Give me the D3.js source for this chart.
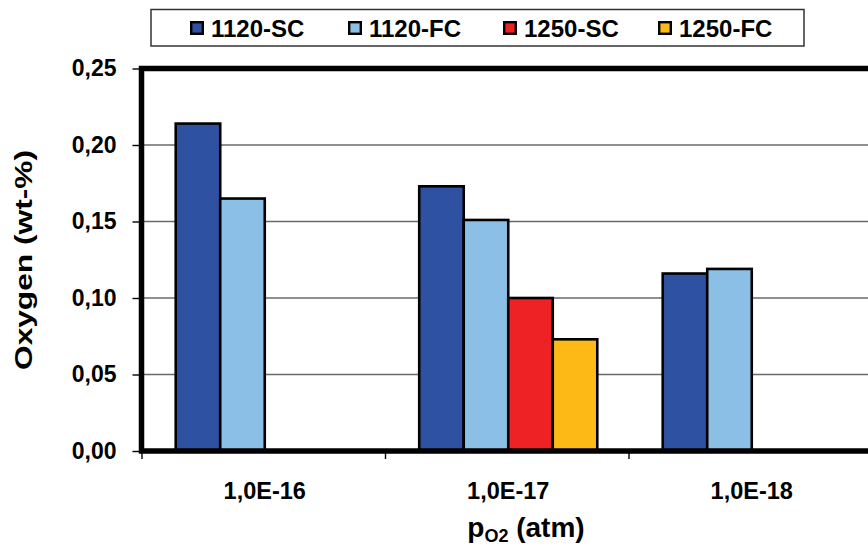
<!DOCTYPE html>
<html><head><meta charset="utf-8">
<script src="https://cdn.jsdelivr.net/npm/d3@7/dist/d3.min.js"></script>
<style>body{margin:0;background:#fff}svg{display:block}text{font-family:Arial,"Liberation Sans",sans-serif;font-weight:bold;fill:#000}</style>
</head><body><svg id="c" width="868" height="549"></svg>
<script>
const categories = ["1,0E-16", "1,0E-17", "1,0E-18"];
const seriesNames = ["1120-SC", "1120-FC", "1250-SC", "1250-FC"];
const sc1120 = [0.214, 0.173, 0.116];
const fc1120 = [0.165, 0.151, 0.119];
const sc1250 = [null, 0.100, null];
const fc1250 = [null, 0.073, null];
const seriesColors = ["#2E51A2", "#8CBFE6", "#EE2224", "#FDB916"];
const yTicks = [0, 0.05, 0.10, 0.15, 0.20, 0.25];

const seriesValues = [sc1120, fc1120, sc1250, fc1250];
const svg = d3.select("#c");
const pLeft = 141.5, pRight = 873.5, pTop = 68.5, pBottom = 451;

const x = d3.scaleBand().domain(categories).range([143, 873.5]).padding(0);
const xi = d3.scaleBand().domain(seriesNames).range([0, x.bandwidth()]).paddingInner(0).paddingOuter(0.735);
const y = d3.scaleLinear().domain([0, 0.25]).range([pBottom, pTop]);
const loc = d3.formatLocale({decimal: ",", thousands: ".", grouping: [3], currency: ["", ""]});
const fmt = loc.format(".2f");

// gridlines
svg.append("g").selectAll("line").data(yTicks.filter(d => d > 0 && d < 0.25)).join("line")
  .attr("x1", pLeft).attr("x2", pRight).attr("y1", d => y(d)).attr("y2", d => y(d))
  .attr("stroke", "#6a6a6a").attr("stroke-width", 1.4);

// bars
const rows = [];
categories.forEach((c, ci) => seriesNames.forEach((s, si) => {
  const v = seriesValues[si][ci];
  if (v != null) rows.push({c, s, v, color: seriesColors[si]});
}));
svg.append("g").selectAll("rect").data(rows).join("rect")
  .attr("x", d => x(d.c) + xi(d.s)).attr("width", xi.bandwidth())
  .attr("y", d => y(d.v)).attr("height", d => y(0) - y(d.v))
  .attr("fill", d => d.color).attr("stroke", "#000").attr("stroke-width", 2.6);

// frame
svg.append("rect").attr("x", pLeft).attr("y", pTop).attr("width", pRight - pLeft).attr("height", pBottom - pTop)
  .attr("fill", "none").attr("stroke", "#000").attr("stroke-width", 5.5);

// y axis
const ya = d3.axisLeft(y).tickValues(yTicks).tickFormat(fmt).tickSize(8).tickPadding(16);
const yg = svg.append("g").attr("transform", `translate(${pLeft - 1},0)`).call(ya);
yg.select(".domain").remove();
yg.selectAll(".tick line").attr("stroke", "#000").attr("stroke-width", 1.4);
yg.selectAll(".tick text").style("font-size", "23px").style("font-family", "Arial, 'Liberation Sans', sans-serif").style("font-weight", "bold").attr("fill", "#000");

// x axis: labels centered in groups, ticks at boundaries
const xa = d3.axisBottom(x).tickSize(0).tickPadding(31);
const xg = svg.append("g").attr("transform", `translate(0,${pBottom})`).call(xa);
xg.select(".domain").remove();
xg.selectAll(".tick text").style("font-size", "23.5px").style("font-family", "Arial, 'Liberation Sans', sans-serif").style("font-weight", "bold").attr("fill", "#000");
svg.append("g").selectAll("line").data(categories).join("line")
  .attr("x1", d => x(d) - 1).attr("x2", d => x(d) - 1).attr("y1", pBottom).attr("y2", pBottom + 8)
  .attr("stroke", "#000").attr("stroke-width", 1.4);

// axis titles
const xt = svg.append("text").attr("x", 526).attr("y", 537).attr("text-anchor", "middle").style("font-size", "28px");
xt.append("tspan").text("p");
xt.append("tspan").text("O2").style("font-size", "18px").attr("dy", 5);
xt.append("tspan").text(" (atm)").attr("dy", -5);

svg.append("text").attr("transform", "translate(32,260) rotate(-90)").attr("text-anchor", "middle")
  .style("font-size", "24px").attr("textLength", 220).attr("lengthAdjust", "spacingAndGlyphs").text("Oxygen (wt-%)");

// legend
const lg = svg.append("g");
lg.append("rect").attr("x", 151).attr("y", 9.5).attr("width", 653).attr("height", 36.5)
  .attr("fill", "#fff").attr("stroke", "#333").attr("stroke-width", 1.5);
const lx = [190, 348, 503, 658];
seriesNames.forEach((s, i) => {
  lg.append("rect").attr("x", lx[i] + 1.2).attr("y", 22.2).attr("width", 11.6).attr("height", 11.6)
    .attr("fill", seriesColors[i]).attr("stroke", "#000").attr("stroke-width", 2.4);
  lg.append("text").attr("x", lx[i] + 21).attr("y", 36.5).style("font-size", "24px").text(s);
});
</script></body></html>
